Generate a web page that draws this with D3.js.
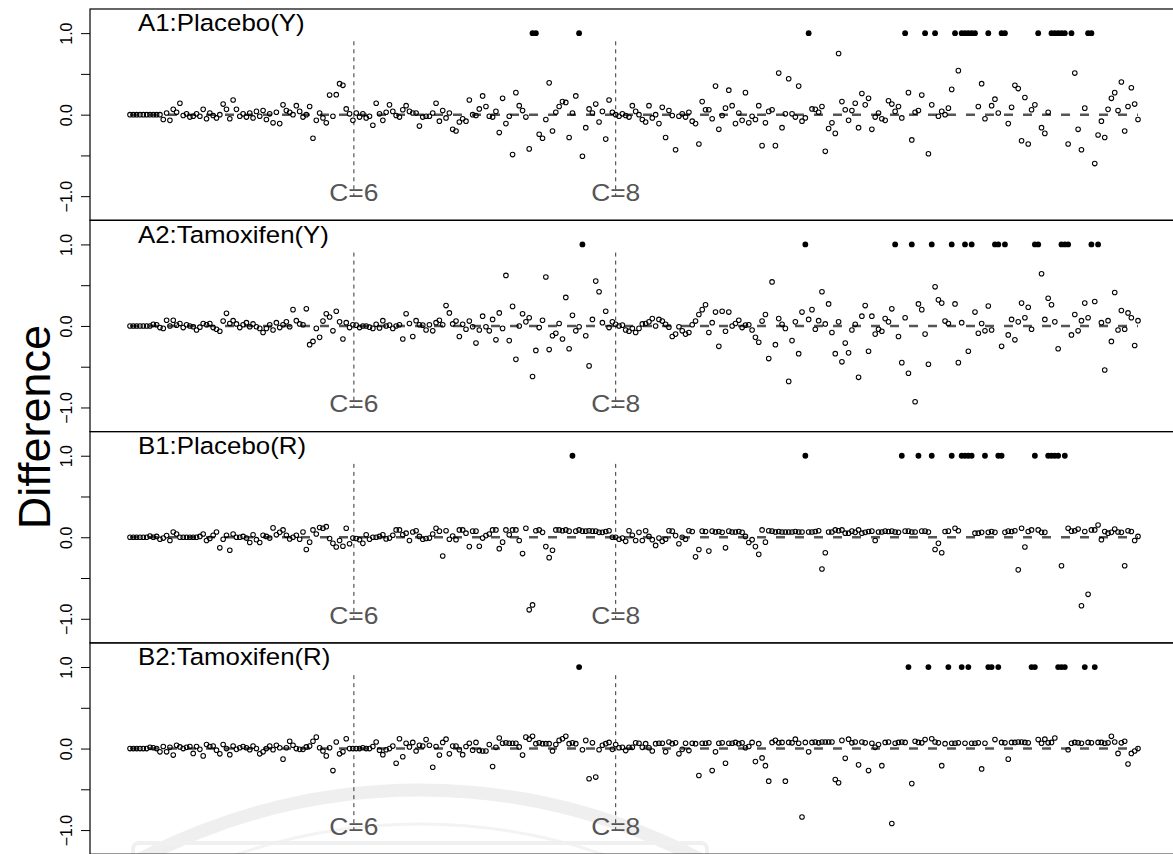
<!DOCTYPE html>
<html>
<head>
<meta charset="utf-8">
<script src="https://cdn.jsdelivr.net/npm/d3@7"></script>
<style>
  body { margin: 0; background: #fff; }
  text { font-family: "Liberation Sans", Arial, Helvetica, sans-serif; }
</style>
</head>
<body>
<svg id="chart" width="1173" height="854"></svg>
<script>
// panel titles
var panelNames = ["A1:Placebo(Y)", "A2:Tamoxifen(Y)", "B1:Placebo(R)", "B2:Tamoxifen(R)"];

// difference for cases 1..304, value 1 = filled dot
var diffA1 = [0,0,0,0,0,0,0,0,0,
  0,-0.06,0.02,-0.07,0.065,0.03,
  0.14,-0.01,0.01,-0.03,-0.02,0.01,-0.02,0.065,-0.05,0.02,-0.01,
  -0.04,0,0.13,0.065,-0.05,0.18,0.065,-0.02,0.01,-0.03,0.02,
  -0.04,0.04,-0.02,0.05,-0.06,0.01,-0.1,0.03,-0.11,0.12,0.05,
  0.03,0,0.11,0.04,-0.03,0,0.1,-0.29,-0.07,0.02,-0.04,
  -0.1,0.24,-0.02,0.245,
  0.38,0.36,0.07,0.01,-0.07,0.02,-0.03,0.01,-0.04,
  -0.02,-0.13,0.14,0.01,-0.07,0.03,0.12,0.04,-0.01,-0.03,0.06,
  0.11,0.04,0.02,0.02,-0.14,-0.03,-0.02,-0.02,0.02,0.14,-0.08,0.05,
  -0.04,0.02,-0.18,-0.2,-0.09,-0.05,-0.08,0.18,0,-0.01,0.07,
  0.23,0.1,-0.02,-0.03,0.04,-0.22,0.2,-0.11,-0.02,-0.49,0.27,0.11,0.05,
  -0.03,-0.42,1,1,-0.24,-0.29,-0.06,0.39,-0.2,0.03,0.1,
  0.16,0.15,-0.28,0.02,0.23,1,
  -0.51,-0.16,0.07,0.02,0.13,-0.09,0.04,-0.3,0.18,0.03,0,-0.02,
  0.01,-0.01,-0.03,0.11,0.04,0,-0.06,-0.09,0.11,-0.04,
  0,-0.11,0.09,-0.28,0.05,-0.01,-0.43,-0.02,0.01,-0.03,0.03,
  -0.08,-0.11,-0.36,0.16,0.06,0.06,-0.05,0.35,-0.18,-0.01,0.08,
  0.3,0.11,-0.11,0.02,-0.07,0.27,-0.1,-0.02,-0.06,0.11,-0.38,-0.1,0.04,
  0.06,-0.38,0.51,-0.16,0.01,0.44,0.01,-0.03,0.35,-0.08,-0.04,1,
  0.07,0.065,0.03,0.1,-0.45,-0.17,-0.1,-0.23,0.75,0.16,
  0.06,-0.07,0.05,0.14,-0.16,0.26,0.12,0.2,-0.18,-0.03,
  0.02,-0.05,-0.07,0.17,0.13,0.04,0.1,-0.04,
  1,0.27,-0.31,0.03,0.05,0.24,1,-0.48,0.12,1,
  -0.02,0.04,0,0.08,0.31,1,0.54,1,1,1,
  1,1,0.1,0.38,-0.05,1,0.11,0.19,0.02,1,
  1,-0.11,0.09,0.36,0.32,-0.32,0.21,-0.36,0.06,0.12,
  1,-0.16,-0.23,0.03,1,1,1,1,1,-0.36,
  1,0.51,-0.18,-0.43,0.08,1,1,-0.6,-0.25,-0.08,
  -0.28,0.065,0.2,0.27,0.05,0.4,-0.2,0.1,0.33,0.13,-0.06];

var diffA2 = [0,0,0,0,0,0,
  0,0.02,0.015,-0.02,-0.03,0.07,0,0.07,0.01,0.03,
  -0.02,0.015,0,-0.01,-0.05,-0.015,0.03,0.015,0.03,-0.02,
  -0.04,-0.065,0.06,0.155,0.03,0.065,0.025,-0.02,0.015,0.04,
  -0.01,0.025,-0.01,-0.03,-0.08,-0.03,0.015,-0.05,0.04,-0.02,
  0.015,0.05,-0.01,0.2,0.065,0.025,0.015,0.21,-0.23,-0.19,-0.03,-0.14,0.06,
  0.15,0.11,-0.06,0.18,0.05,-0.16,0.04,-0.02,0.015,0.01,-0.02,
  0,0,-0.015,-0.03,0.02,-0.025,0.065,0,0.01,-0.03,
  0,0.015,-0.16,0.15,0.03,-0.13,0.065,0.015,
  0.01,-0.05,0.015,-0.06,0.04,0.07,0.015,0.25,
  0.16,0.025,0.06,-0.13,0.02,-0.04,0.06,-0.01,-0.21,-0.05,
  0.12,-0.01,-0.06,0.08,-0.17,0.16,-0.03,0.62,-0.18,0.24,-0.41,
  0,0.15,0.05,0.1,-0.62,-0.3,-0.02,0.07,0.6,
  -0.29,-0.12,-0.09,0.03,-0.16,0.35,-0.28,0.13,-0.06,-0.01,1,
  -0.12,-0.49,0.08,0.55,0.42,
  0.04,0.18,-0.02,0.05,0.02,0,0.01,-0.05,-0.065,-0.03,
  -0.08,-0.03,0.025,0.03,0.05,0.09,0,0.08,0.06,0.02,
  -0.015,-0.13,-0.1,-0.01,-0.06,-0.1,-0.08,0.015,0.06,
  0.14,0.2,0.26,-0.08,0.04,0.17,-0.25,
  0.18,-0.065,0.17,0,0.03,0.07,-0.02,0.01,0.015,-0.05,
  -0.14,-0.2,0.06,0.14,-0.4,0.54,-0.23,0.09,0.02,-0.03,-0.68,
  -0.18,0.05,-0.34,0.17,1,
  0.08,0.2,-0.04,0.065,0.42,0.025,0.27,-0.08,-0.34,0.05,
  -0.44,-0.21,-0.33,-0.05,0.02,-0.63,0.12,0.25,-0.31,0.12,
  -0.1,-0.04,-0.065,0.09,0.05,0.21,1,-0.13,-0.45,0.1,
  -0.58,1,-0.93,0.27,0.2,-0.1,-0.47,1,0.48,0.32,
  0.28,0.06,0.03,1,0.27,-0.45,0.04,1,-0.31,1,
  0.17,-0.09,0.03,-0.06,0.245,-0.05,1,1,-0.25,1,
  -0.11,0.08,-0.17,0.05,0.28,0.1,0.23,-0.04,1,1,
  0.64,0.08,0.34,0.26,0.05,-0.28,1,1,1,-0.11,
  0.14,-0.06,0.065,0.28,0.1,1,0.3,1,0.04,-0.54,
  0.065,-0.19,0.41,-0.05,0.19,-0.04,0.16,0.1,-0.24,0.065];

var diffB1 = [0,0,0,0,0,0,
  0.015,0,0.01,-0.025,-0.01,0.02,
  -0.04,0.065,0.04,0,0,0,0,0,0,0.01,
  0.04,-0.04,-0.015,0.025,0.065,-0.13,-0.025,0.025,-0.16,
  0.04,0,0,0.01,-0.01,-0.065,0.03,-0.03,-0.065,0.025,0.01,-0.01,0.115,
  0.03,0.06,0.09,0.025,-0.02,0,0.025,-0.025,0.065,-0.15,
  -0.06,0.09,0.04,0.12,0.11,0.13,-0.015,-0.075,-0.12,-0.04,-0.11,0.11,
  -0.08,-0.01,-0.015,-0.03,-0.075,0.03,-0.025,0,0,0.01,0.03,-0.02,
  -0.01,0.025,0.09,0.09,0.03,0.05,-0.04,0.065,0.08,0.01,
  -0.025,-0.015,-0.01,0.04,0.11,0.075,-0.23,
  0.08,-0.025,0.015,-0.03,0.09,0.09,0.05,-0.115,
  0.075,0.075,-0.11,-0.01,0.02,0.04,0.09,0.09,-0.14,
  -0.06,0.09,0.03,0.09,0.09,-0.04,-0.2,0.11,-0.89,-0.83,
  0.08,0.09,0.06,-0.115,-0.25,-0.16,0.09,0.09,0.08,0.09,0.075,1,
  0.075,0.09,0.075,0.075,0.08,0.075,0.075,0.06,0.06,0.07,
  0.08,0,0,-0.025,-0.01,-0.05,0.08,0.025,-0.04,0.06,
  -0.04,0.08,0.01,-0.03,-0.1,
  -0.01,-0.05,-0.025,0.08,0.075,0.02,-0.08,0,-0.025,0.08,0.07,-0.24,
  -0.15,0.075,0.07,-0.17,0.075,0.065,0.07,0.06,-0.13,
  0.075,0.065,0.065,0.07,0.06,0.01,-0.065,-0.03,-0.115,-0.21,
  0.09,-0.06,0.08,0.075,0.065,0.07,0.065,0.065,0.065,0.065,0.07,0.065,
  0.065,1,
  0.065,0.065,0.07,0.08,-0.39,
  -0.19,0.065,0.065,0.09,0.08,0.09,0.05,0.05,0.075,0.06,
  0.09,0.05,0.06,0.07,0.075,-0.04,
  0.065,0.065,0.075,0.07,0.075,0.065,0.06,1,
  0.075,0.075,0.065,0.065,1,0.075,0.075,0.065,1,-0.15,
  -0.075,-0.19,0.07,0.075,1,0.11,0.08,1,1,1,
  1,0.05,0.05,0.06,1,0.06,0.07,0.06,1,1,
  0.06,0.075,0.07,0.08,-0.4,0.11,-0.12,0.07,0.09,1,
  0.09,0.06,0.06,1,1,1,1,-0.35,1,0.11,
  0.075,0.08,0.1,-0.84,0.07,-0.7,0.09,0.09,0.15,-0.03,
  0.07,0.05,0.06,0.1,0.065,0.06,-0.35,0.08,0.07,-0.04,0.01];

var diffB2 = [0,0,0,0,0,0,
  0.015,0.01,0,-0.04,0.025,-0.04,0.015,-0.08,0.04,0.02,
  0,0.015,0.025,-0.06,0.025,-0.01,-0.09,0.05,0.025,0.03,-0.02,
  -0.065,0.05,0,-0.075,0.03,-0.01,0.01,0.025,0.01,-0.015,0.03,
  0,-0.065,-0.04,0,0.03,-0.015,0.04,0.01,-0.13,
  0.01,0.09,0.04,0,-0.01,-0.01,0.02,0.03,0.09,0.14,0.01,-0.03,
  -0.09,0.01,-0.27,0.08,-0.065,-0.04,0.12,
  0,0,0,0,0.01,0,0,0.025,0.08,-0.02,-0.075,-0.015,0,0.03,-0.18,
  0.12,-0.1,0.065,0.02,0.075,-0.03,0.04,
  0.03,0.11,0.04,-0.23,
  0.025,-0.08,0.075,0.115,-0.065,0.03,0.03,-0.015,-0.075,0.025,
  0.065,-0.02,0.075,-0.025,-0.03,-0.03,0.05,-0.22,
  0.015,0.13,0.065,0.07,0.065,0.065,0.065,0.02,-0.08,
  0.14,0.115,0.15,0.06,0.07,0.06,0.06,0.06,-0.03,0.05,
  0.1,0.12,0.15,0.06,0.07,0.06,1,
  -0.015,0.1,-0.37,0.07,-0.35,
  -0.015,0.04,0.06,0.075,-0.01,0.05,0.01,0.015,-0.025,0.015,
  0.015,0.07,0.065,0.015,0.06,0.01,-0.03,0.06,0.065,0.065,
  -0.04,0.08,0.06,0.07,-0.065,-0.01,0.065,-0.025,0.065,0.06,-0.33,
  0.065,0.065,0.07,-0.27,-0.04,0.065,0.07,-0.18,
  0.065,0.065,0.075,0.06,0.07,0.01,0.025,0.075,-0.16,0.06,
  -0.115,-0.21,-0.4,0.075,0.1,0.07,0.075,-0.4,0.075,0.07,
  0.115,0.065,-0.84,
  0.075,-0.04,0.075,0.08,0.07,0.08,0.08,0.08,0.08,-0.38,-0.42,
  0.1,-0.12,0.115,0.07,0.08,-0.2,0.08,0.07,-0.27,
  0.065,0.015,0.05,-0.21,0.075,0.08,-0.92,
  0.065,0.075,0.08,0.075,1,-0.43,0.09,0.075,0.07,0.11,1,
  0.12,0.08,0.07,-0.21,0.06,1,0.065,0.065,0.07,1,
  0.065,1,0.065,0.065,0.07,-0.25,0.065,1,1,0.11,1,
  0.075,0.07,-0.13,0.075,0.075,0.08,0.08,0.075,0.07,1,1,
  0.11,0.065,0.115,0.07,0.075,0.13,1,1,1,
  -0.015,0.065,0.075,0.07,0.065,1,0.075,0.07,1,
  0.075,0.075,0.065,0.07,0.15,0.08,-0.06,0.07,0.09,-0.19,
  -0.06,-0.03,0];

var seriesList = [diffA1, diffA2, diffB1, diffB2];

// cut-off markers (case number where they sit)
var cutLabels = ["C=6", "C=8"];
var cutAt = [68.3, 147];

var yTicks = [-1, -0.5, 0, 0.5, 1];
var yTickLabels = ["\u22121.0", "", "0.0", "", "1.0"];
var yLabel = "Difference";

var width = 1173;
var height = 854;
var svg = d3.select("#chart");

var plot = { l: 90, r: 1178, t: 9 };
var panelH = 211.3;
var nCases = d3.max(seriesList, function (s) { return s.length; });

svg.append("rect")
    .attr("width", width)
    .attr("height", height)
    .attr("fill", "#fff");

// faint seal in the background of the last panel
var seal = svg.append("g").attr("fill", "none");
seal.append("circle").attr("cx", 420).attr("cy", 1390).attr("r", 600)
    .attr("stroke", "#efefef").attr("stroke-width", 13);
seal.append("circle").attr("cx", 420).attr("cy", 1390).attr("r", 566)
    .attr("stroke", "#f3f3f3").attr("stroke-width", 3);
seal.append("rect").attr("x", 133).attr("y", 843).attr("width", 574).attr("height", 60).attr("rx", 6)
    .attr("stroke", "#f0f0f0").attr("stroke-width", 4);

var xScale = d3.scaleLinear().domain([1, nCases]).range([130, 1138]);

seriesList.forEach(function (vals, k) {
    var top = plot.t + k * panelH;

    var yScale = d3.scaleLinear().domain([-1.296, 1.296]).range([top + panelH, top]);

    var g = svg.append("g").attr("class", "panel");

    // frame
    g.append("rect")
        .attr("x", plot.l)
        .attr("y", top)
        .attr("width", plot.r - plot.l)
        .attr("height", panelH)
        .attr("fill", "none")
        .attr("stroke", "#000")
        .attr("stroke-width", 1.2);

    // y axis
    var yAxis = d3.axisLeft(yScale)
        .tickValues(yTicks)
        .tickFormat(function (d, i) { return yTickLabels[i]; })
        .tickSize(9);

    var ax = g.append("g")
        .attr("transform", "translate(" + plot.l + ",0)")
        .call(yAxis);
    ax.select(".domain").remove();
    ax.selectAll("line").attr("stroke", "#000");
    ax.selectAll("text")
        .attr("transform", "rotate(-90)")
        .attr("x", 0)
        .attr("y", -18)
        .attr("dy", 0)
        .attr("text-anchor", "middle")
        .attr("fill", "#000")
        .style("font-size", "16px")
        .style("font-family", "'Liberation Sans', Arial, sans-serif");

    // zero reference
    g.append("line")
        .attr("x1", xScale(1))
        .attr("x2", xScale(vals.length))
        .attr("y1", yScale(0))
        .attr("y2", yScale(0))
        .attr("stroke", "#555")
        .attr("stroke-width", 2.5)
        .attr("stroke-dasharray", "9,10");

    // cut-off lines
    cutAt.forEach(function (c, j) {
        var cx = xScale(c);
        g.append("line")
            .attr("x1", cx)
            .attr("x2", cx)
            .attr("y1", yScale(0.9))
            .attr("y2", yScale(-1.0))
            .attr("stroke", "#333")
            .attr("stroke-width", 1)
            .attr("stroke-dasharray", "4,4");
        g.append("text")
            .attr("transform", "translate(" + cx + "," + yScale(-1.06) + ") scale(1.1,1)")
            .attr("text-anchor", "middle")
            .attr("fill", "#555")
            .style("font-size", "24px")
            .text(cutLabels[j]);
    });

    // points
    g.selectAll(".pt")
        .data(vals)
        .enter()
        .append("circle")
        .attr("class", "pt")
        .attr("cx", function (d, i) { return xScale(i + 1); })
        .attr("cy", function (d) { return yScale(d); })
        .attr("r", function (d) { return d === 1 ? 2.9 : 2.3; })
        .attr("fill", function (d) { return d === 1 ? "#000" : "none"; })
        .attr("stroke", "#000")
        .attr("stroke-width", function (d) { return d === 1 ? 0 : 1.05; });

    // panel title
    g.append("text")
        .attr("transform", "translate(138," + yScale(1.02) + ") scale(1.1,1)")
        .attr("fill", "#000")
        .style("font-size", "23.5px")
        .text(panelNames[k]);
});

svg.append("text")
    .attr("transform", "translate(50,427) rotate(-90)")
    .attr("text-anchor", "middle")
    .attr("fill", "#000")
    .style("font-size", "45px")
    .text(yLabel);
</script>
</body>
</html>
